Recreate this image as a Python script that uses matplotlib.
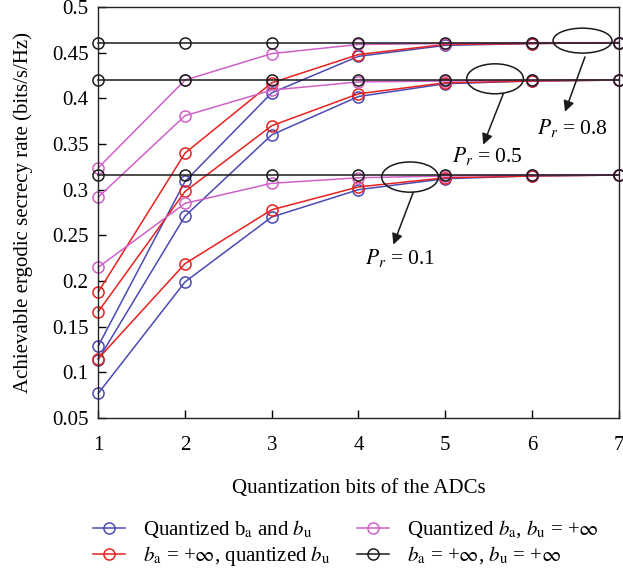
import matplotlib
matplotlib.use('Agg')
import matplotlib.pyplot as plt
from matplotlib.patches import Ellipse

plt.rcParams['font.family'] = ['Liberation Serif', 'DejaVu Serif']
plt.rcParams['mathtext.fontset'] = 'stix'
plt.rcParams['font.size'] = 15

bits = [1, 2, 3, 4, 5, 6, 7]
pr_values = ['0.8', '0.5', '0.1']

# quantized b_a and b_u
blue = [
    [0.129, 0.309, 0.406, 0.446, 0.458, 0.460, 0.461],
    [0.114, 0.271, 0.360, 0.402, 0.416, 0.419, 0.420],
    [0.077, 0.199, 0.270, 0.300, 0.312, 0.315, 0.316],
]
# b_a = +inf, quantized b_u
red = [
    [0.188, 0.340, 0.417, 0.448, 0.459, 0.460, 0.461],
    [0.1665, 0.298, 0.370, 0.405, 0.417, 0.419, 0.420],
    [0.115, 0.219, 0.278, 0.303, 0.313, 0.315, 0.316],
]
# quantized b_a, b_u = +inf
magenta = [
    [0.324, 0.420, 0.449, 0.459, 0.460, 0.461, 0.461],
    [0.292, 0.381, 0.409, 0.418, 0.419, 0.420, 0.420],
    [0.215, 0.285, 0.307, 0.313, 0.315, 0.316, 0.316],
]
# both unquantized
black = [
    [0.461] * 7,
    [0.420] * 7,
    [0.316] * 7,
]

labels = [
    r'Quantized b$_\mathrm{a}$ and $b_\mathrm{u}$',
    r'$b_\mathrm{a}$ = +$\infty$, quantized $b_\mathrm{u}$',
    r'Quantized $b_\mathrm{a}$, $b_\mathrm{u}$ = +$\infty$',
    r'$b_\mathrm{a}$ = +$\infty$, $b_\mathrm{u}$ = +$\infty$',
]
colors = ['#4a4ab4', '#e8221e', '#d060c8', '#1a1a1a']

fig = plt.figure(figsize=(6.23, 5.71), dpi=100)
ax = fig.add_axes([0.1578, 0.268, 0.835, 0.7197])

handles = []
for series, c, lab in zip([blue, red, magenta, black], colors, labels):
    for i, vals in enumerate(series):
        h, = ax.plot(bits, vals, color=c, lw=1.1, marker='o', ms=8,
                     mfc='none', mec=c, mew=1.1, clip_on=False,
                     label=lab if i == 0 else None)
        if i == 0:
            handles.append(h)

ax.set_xlim(1, 7)
ax.set_ylim(0.05, 0.5)
ax.set_xticks(bits)
ax.set_yticks([0.05, 0.1, 0.15, 0.2, 0.25, 0.3, 0.35, 0.4, 0.45, 0.5])
ax.set_yticklabels(['0.05', '0.1', '0.15', '0.2', '0.25', '0.3', '0.35', '0.4', '0.45', '0.5'])
ax.tick_params(direction='in', length=6, width=1, labelsize=15)
ax.tick_params(axis='y', pad=7)
ax.tick_params(axis='x', pad=13)
for s in ax.spines.values():
    s.set_linewidth(1.0)
    s.set_color('#222222')

ax.set_xlabel('Quantization bits of the ADCs', fontsize=15, labelpad=17)
ax.set_ylabel('Achievable ergodic secrecy rate (bits/s/Hz)', fontsize=15, labelpad=14)

# ellipses marking each P_r group, with arrows to their labels
ellipses = [(6.585, 0.4632, 0.68, 0.0273), (5.576, 0.4214, 0.654, 0.0328),
            (4.595, 0.3138, 0.654, 0.0331)]
arrows = [((6.613, 0.4454), (6.383, 0.3853)), ((5.671, 0.405), (5.44, 0.3493)),
          ((4.633, 0.2972), (4.403, 0.2399))]
text_pos = [(6.47, 0.368), (5.49, 0.3365), (4.48, 0.2255)]
for (cx, cy, w, h), (p0, p1), (tx, ty), pr in zip(ellipses, arrows, text_pos, pr_values):
    ax.add_patch(Ellipse((cx, cy), w, h, fill=False, ec='#1a1a1a', lw=1.1, zorder=5, clip_on=False))
    ax.annotate('', xy=p1, xytext=p0,
                arrowprops=dict(arrowstyle='-|>', color='#1a1a1a', lw=1.1,
                                mutation_scale=16, shrinkA=0, shrinkB=0))
    ax.text(tx, ty, r'$P_r$ = ' + pr, ha='center', va='center', fontsize=15.5)

fig.legend(handles=handles, loc='center', bbox_to_anchor=(0.555, 0.049), ncol=2,
           frameon=False, fontsize=15, handlelength=1.55, handletextpad=0.85,
           columnspacing=1.3, labelspacing=0.2)

fig.savefig('out.png', dpi=100)
